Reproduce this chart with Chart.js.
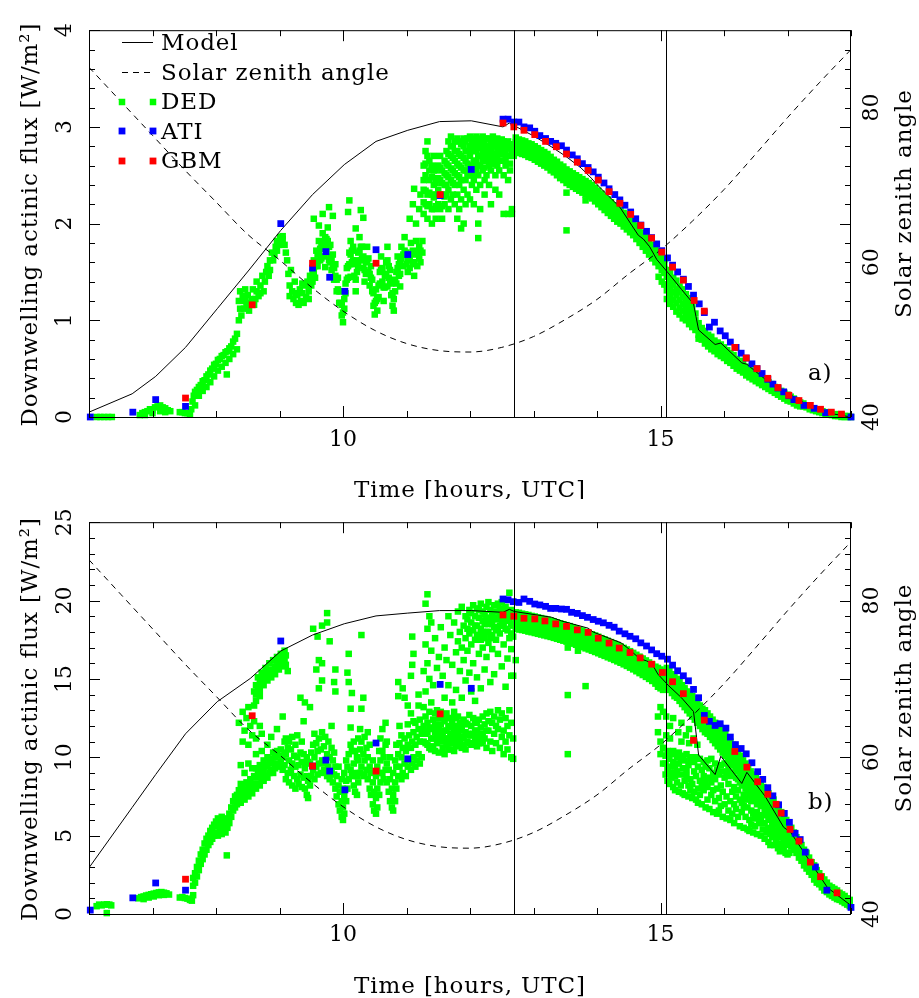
<!DOCTYPE html>
<html><head><meta charset="utf-8">
<script src="https://cdn.jsdelivr.net/npm/chart.js@4.4.1/dist/chart.umd.min.js"></script>
<style>html,body{margin:0;padding:0;background:#fff;}canvas{display:block;}</style>
</head><body>
<canvas id="ca" width="919" height="499"></canvas>
<canvas id="cb" width="919" height="499"></canvas>
<script>
// ---------- axis / marker values ----------
const markerTimes = [12.70, 15.08];
const timeTickLabels = [10, 15];
const fluxTickLabelsA = [0, 1, 2, 3, 4];
const fluxTickLabelsB = [0, 5, 10, 15, 20, 25];
const szaTickLabels = [40, 60, 80];

// ---------- solar zenith angle [hour, deg] ----------
const sza = [[6.0,85.2],[6.5,80.8],[7.0,76.4],[7.5,72.0],[8.0,67.8],[8.5,63.6],[9.0,60.3],[9.5,56.8],[10.0,53.7],[10.5,51.2],[11.0,49.5],[11.5,48.6],[12.0,48.4],[12.5,49.0],[13.0,50.4],[13.5,52.6],[14.0,55.2],[14.5,58.5],[15.0,61.6],[15.5,65.3],[16.0,69.4],[16.5,74.0],[17.0,78.7],[17.5,83.2],[18.0,87.5]];

// ---------- panel a ----------
const modelA = [[6.00,0.05],[6.68,0.24],[7.05,0.42],[7.52,0.72],[8.02,1.12],[8.52,1.52],[9.02,1.93],[9.52,2.30],[10.02,2.61],[10.52,2.85],[11.02,2.965],[11.52,3.055],[12.02,3.063],[12.52,3.00],[12.62,3.04],[12.79,2.98],[13.02,2.90],[13.28,2.795],[13.50,2.70],[13.75,2.575],[13.91,2.47],[13.99,2.41],[14.36,2.17],[14.65,1.88],[14.73,1.84],[14.83,1.76],[14.94,1.63],[15.12,1.49],[15.33,1.32],[15.52,1.17],[15.60,0.90],[15.86,0.75],[15.95,0.765],[16.28,0.56],[16.36,0.545],[16.65,0.39],[17.02,0.24],[17.33,0.12],[17.65,0.04],[18.00,0.00]];
const atiA = [[6.02,0.00],[6.69,0.05],[7.05,0.18],[7.52,0.11],[9.02,2.00],[9.52,1.54],[9.73,1.71],[9.79,1.445],[10.03,1.30],[10.52,1.73],[11.02,1.68],[11.53,2.29],[12.02,2.56],
[12.52,3.08],[12.60,3.08],[12.69,3.05],[12.77,3.05],[12.85,3.00],[12.94,2.99],[13.02,2.955],[13.10,2.91],[13.19,2.88],[13.27,2.85],[13.35,2.83],[13.44,2.805],[13.52,2.76],[13.61,2.71],[13.69,2.67],[13.77,2.62],[13.86,2.58],[13.94,2.535],[14.02,2.48],[14.11,2.42],[14.19,2.36],[14.28,2.30],[14.36,2.245],[14.44,2.19],[14.53,2.12],[14.61,2.05],[14.69,1.985],[14.78,1.92],[14.86,1.855],[14.94,1.79],[15.02,1.72],[15.11,1.645],[15.19,1.57],[15.27,1.50],[15.36,1.425],[15.44,1.35],[15.52,1.26],[15.61,1.17],[15.69,1.08],[15.77,0.93],[15.85,0.98],[15.94,0.89],[16.02,0.84],[16.10,0.775],[16.19,0.72],[16.27,0.66],[16.35,0.61],[16.44,0.55],[16.52,0.50],[16.60,0.45],[16.69,0.39],[16.77,0.34],[16.85,0.30],[16.94,0.26],[17.02,0.22],[17.10,0.18],[17.26,0.12],[17.42,0.09],[17.60,0.045],[18.00,0.00]];
const gbmA = [[7.52,0.196],[8.57,1.16],[9.52,1.59],[10.52,1.59],[11.53,2.30],
[12.52,3.04],[12.69,3.00],[12.85,2.965],[13.02,2.92],[13.19,2.85],[13.36,2.795],[13.52,2.72],[13.69,2.635],[13.86,2.55],[14.02,2.45],[14.19,2.33],[14.36,2.21],[14.53,2.095],[14.69,1.98],[14.86,1.85],[15.02,1.705],[15.19,1.55],[15.36,1.415],[15.53,1.205],[15.69,1.095],[16.17,0.72],[16.35,0.61],[16.52,0.50],[16.69,0.40],[16.85,0.305],[17.02,0.225],[17.18,0.17],[17.36,0.12],[17.52,0.08],[17.69,0.05],[17.85,0.03]];
// DED rows: [hour, reading, reading, ...]
const dedA_morning = [[6.12,0.00],[6.18,0.00],[6.24,0.00],[6.30,0.00],[6.36,0.00],
[6.80,0.02],[6.84,0.04],[6.88,0.05,0.02],[6.92,0.06],[6.96,0.08],[7.00,0.07,0.04],[7.04,0.10],[7.08,0.11],[7.12,0.12,0.06],[7.16,0.10],[7.20,0.09,0.05],[7.24,0.07],[7.28,0.06],
[7.43,0.05],[7.47,0.05],[7.51,0.04],[7.55,0.04],[7.59,0.03],
[7.61,0.08],[7.63,0.16],[7.65,0.22],[7.67,0.26,0.12],[7.70,0.28],[7.73,0.31,0.22],[7.76,0.33],[7.79,0.37,0.27],[7.82,0.38],[7.85,0.42,0.31],[7.88,0.44],[7.91,0.48,0.36],[7.94,0.50],[7.97,0.54,0.42],[8.00,0.55],[8.03,0.59,0.48],[8.06,0.60],[8.09,0.63,0.52],[8.12,0.64],[8.15,0.67,0.56],[8.17,0.44],[8.18,0.68],[8.21,0.71,0.60],[8.24,0.73],[8.27,0.78,0.65],[8.30,0.81],[8.33,0.86,0.70]];
const dedA_cloud = [[8.36,1.20,1.00],[8.38,1.30,1.12],[8.40,1.05],[8.42,1.25],[8.44,1.12],[8.46,1.32,1.20],[8.48,1.15],[8.50,1.26],[8.52,1.10],[8.54,1.18],[8.56,1.22],[8.58,1.32],[8.60,1.16],[8.62,1.22],[8.64,1.30,1.40],[8.67,1.25],[8.70,1.36,1.28],[8.73,1.46],[8.75,1.30],[8.77,1.40],[8.79,1.50],[8.81,1.56],[8.83,1.46],[8.85,1.62,1.52],[8.88,1.70],[8.90,1.62],[8.92,1.68],[8.94,1.76],[8.96,1.82,1.72],[8.99,1.78],[9.01,1.86],[9.03,1.80],[9.05,1.87,1.84],[9.08,1.78],[9.10,1.70],
[9.12,1.62],[9.14,1.48],[9.16,1.36,1.25],[9.18,1.52],[9.20,1.30],[9.22,1.22],[9.24,1.40],[9.26,1.18,1.28],[9.28,1.26],[9.30,1.16],[9.32,1.32],[9.34,1.20],[9.36,1.28,1.38],[9.38,1.18],[9.40,1.36],[9.42,1.24],[9.44,1.40],[9.46,1.30,1.22],[9.48,1.46],[9.50,1.36],
[9.52,1.50,1.40],[9.54,1.62,1.50,2.05],[9.56,1.44,1.56],[9.58,1.72,1.60],[9.60,1.56,1.68],[9.62,1.82,1.70,1.98],[9.64,1.62,1.74],[9.66,1.76,1.64],[9.68,1.90,1.78,2.10],[9.70,1.66,1.80],[9.72,1.86,1.74,1.55],[9.74,1.72,1.84],[9.76,1.96,1.82],[9.78,1.62,1.76,2.17],[9.80,1.78,1.66,1.60],[9.82,1.52,1.64],[9.84,1.68,1.56,2.08],[9.86,1.42,1.54],[9.88,1.58,1.46],[9.90,1.30,1.42],[9.92,1.44,1.32],[9.94,1.18,1.30],[9.96,1.30,1.18],[9.98,1.05,1.16],[10.00,0.98,1.08],[10.02,1.12,1.22],[10.04,1.28,1.38],[10.06,1.42,1.54],
[10.08,1.56,1.44,2.12],[10.10,1.70,1.58,2.24],[10.12,1.82,1.68,1.45],[10.14,1.60,1.72],[10.16,1.76,1.62],[10.18,1.46,1.58],[10.20,1.30,1.42,1.95],[10.22,1.50,1.62],[10.24,1.70,1.56],[10.26,1.86,1.72],[10.28,1.62,1.76,2.14],[10.30,1.76,1.64],[10.32,1.54,1.66,2.06],[10.34,1.40,1.52],[10.36,1.60,1.48],[10.38,1.76,1.62],[10.40,1.50,1.64],[10.42,1.36,1.48],[10.44,1.56,1.44],[10.46,1.30,1.42],[10.48,1.15,1.28],[10.50,1.06,1.18],[10.52,1.20,1.32],[10.54,1.10,1.22],[10.56,1.36,1.24],
[10.58,1.50,1.38],[10.60,1.66,1.52],[10.62,1.40,1.54],[10.64,1.20,1.34],[10.66,1.46,1.34],[10.68,1.60,1.48],[10.70,1.76,1.62,1.35],[10.72,1.56,1.44],[10.74,1.40,1.52],[10.76,1.26,1.38],[10.78,1.15,1.28],[10.80,1.10,1.22],[10.82,1.30,1.42],[10.84,1.50,1.38],[10.86,1.66,1.54],[10.88,1.46,1.58],[10.90,1.60,1.48,1.35],[10.92,1.76,1.64],[10.95,1.56,1.68],[10.97,1.86,1.72],[11.00,1.70,1.58],[11.02,1.50,1.62],[11.05,1.66,1.54,2.05],[11.07,1.80,1.68],[11.10,1.60,1.72,2.20],[11.12,1.46,1.58,2.36],[11.15,1.70,1.82,2.00],[11.17,1.56,1.68],[11.20,1.76,1.64,2.15],[11.22,1.60,1.72,2.30],[11.25,1.82,1.70],
[11.27,2.60,2.45,2.35,2.22,2.10],[11.30,2.75,2.62,2.50,2.34,2.20],[11.33,2.85,2.70,2.30,2.18,2.05],[11.36,2.65,2.55,2.45,2.32,2.20],[11.40,2.60,2.48,2.30,2.15,2.00],[11.43,2.70,2.55,2.40,2.27,2.15],[11.46,2.55,2.42,2.30,2.18,2.05],[11.50,2.60,2.47,2.35,2.20],[11.53,2.70,2.58,2.45,2.30,2.15],[11.56,2.55,2.42,2.30,2.18,2.05],[11.60,2.65,2.52,2.40,2.28,2.20],[11.63,2.75,2.62,2.50,2.40,2.30],[11.66,2.85,2.72,2.60,2.48,2.35,2.15],[11.70,2.90,2.80,2.70,2.57,2.45,2.25],[11.73,2.80,2.68,2.55,2.42,2.30],[11.76,2.85,2.75,2.65,2.52,2.40,2.20],[11.80,2.88,2.75,2.62,2.50,2.30,2.05],[11.83,2.85,2.72,2.60,2.48,2.40,2.15],[11.86,2.82,2.70,2.58,2.45,2.25,1.95],[11.90,2.88,2.80,2.68,2.55,2.35,2.00],[11.93,2.85,2.75,2.65,2.55,2.45,2.20],[11.96,2.88,2.75,2.62,2.50,2.30],[12.00,2.90,2.80,2.70,2.60,2.50,2.25],[12.03,2.85,2.75,2.60,2.50,2.40],[12.06,2.88,2.80,2.65,2.55,2.45,2.20],[12.10,2.90,2.82,2.75,2.65,2.55,2.35],[12.13,2.85,2.78,2.70,2.60,2.50,2.00,1.85],[12.16,2.88,2.80,2.70,2.60,2.40,2.15],[12.20,2.90,2.82,2.75,2.65,2.55],[12.23,2.85,2.78,2.70,2.58,2.45,2.30],[12.26,2.88,2.80,2.72,2.65,2.50],[12.30,2.88,2.80,2.75,2.68,2.60,2.40],[12.33,2.85,2.78,2.70,2.62,2.55,2.20],[12.36,2.90,2.84,2.80,2.72,2.65],[12.40,2.85,2.80,2.70,2.62,2.50,2.35],[12.43,2.88,2.83,2.78,2.70,2.60],[12.46,2.85,2.80,2.75,2.65,2.55,2.30],[12.50,2.87,2.83,2.80,2.72,2.65],[12.53,2.85,2.80,2.75,2.65,2.50,2.10],[12.56,2.83,2.78,2.72,2.66,2.60],[12.60,2.85,2.80,2.78,2.70,2.45,2.10],[12.63,2.82,2.78,2.70,2.62,2.55],[12.66,2.80,2.77,2.75,2.15,2.10],[12.69,2.82,2.76,2.70]];
const dedA_band = [[12.72,2.89,2.84,2.80,2.75],[12.77,2.87,2.83,2.78,2.73],[12.82,2.86,2.81,2.77,2.72],[12.87,2.85,2.80,2.76,2.71],[12.92,2.83,2.78,2.74,2.69],[12.97,2.82,2.77,2.72,2.68],[13.02,2.80,2.75,2.70,2.66],[13.07,2.78,2.73,2.69,2.64],[13.12,2.76,2.71,2.67,2.62],[13.17,2.74,2.69,2.64,2.60],[13.22,2.72,2.67,2.62,2.58],[13.27,2.69,2.64,2.60,2.55],[13.32,2.66,2.62,2.57,2.53],[13.37,2.64,2.59,2.55,2.50],[13.42,2.61,2.56,2.52,2.47],[13.47,2.59,2.54,2.49,2.45],[13.52,2.56,2.51,2.47,2.42,2.32,1.93],[13.57,2.54,2.49,2.45,2.40],[13.62,2.52,2.47,2.42,2.38],[13.67,2.50,2.45,2.41,2.36],[13.72,2.48,2.43,2.39,2.34],[13.77,2.46,2.41,2.36,2.32],[13.82,2.44,2.39,2.34,2.30,2.24],[13.87,2.42,2.37,2.32,2.28],[13.92,2.40,2.35,2.30,2.26],[13.97,2.37,2.32,2.28,2.23],[14.02,2.34,2.29,2.25,2.20],[14.07,2.31,2.26,2.22,2.17],[14.12,2.28,2.23,2.19,2.14],[14.17,2.25,2.20,2.16,2.11],[14.22,2.22,2.17,2.13,2.08],[14.27,2.19,2.14,2.10,2.05],[14.32,2.16,2.11,2.07,2.02],[14.37,2.14,2.09,2.04,2.00],[14.42,2.11,2.06,2.02,1.97],[14.47,2.08,2.03,1.99,1.94],[14.52,2.05,2.00,1.96,1.91],[14.57,2.02,1.97,1.92,1.88],[14.62,1.98,1.93,1.89,1.84],[14.67,1.94,1.89,1.85,1.80],[14.72,1.90,1.85,1.81,1.76],[14.77,1.86,1.81,1.77,1.72],[14.82,1.82,1.77,1.73,1.68],[14.87,1.78,1.73,1.68,1.64],[14.92,1.74,1.69,1.64,1.60],[14.97,1.70,1.65,1.60,1.56,1.45],[15.02,1.66,1.61,1.56,1.52,1.40],[15.06,1.63,1.58,1.53,1.49,1.37]];
const dedA_evening = [[15.10,1.52,1.45,1.37,1.31,1.22],[15.15,1.49,1.40,1.33,1.25,1.17],[15.20,1.44,1.37,1.29,1.21,1.14],[15.25,1.41,1.32,1.26,1.18,1.09],[15.30,1.35,1.29,1.21,1.13,1.06],[15.35,1.32,1.24,1.17,1.10,1.02],[15.40,1.27,1.21,1.13,1.05,1.00],[15.45,1.23,1.15,1.09,1.02,0.96],[15.50,1.17,1.11,1.04,0.98,0.93],[15.55,1.07,1.00,0.95,0.90],[15.60,0.97,0.90,0.85,0.81],[15.65,0.92,0.86,0.80],[15.70,0.89,0.82,0.76],[15.75,0.85,0.79,0.73],[15.80,0.83,0.76,0.70],[15.85,0.79,0.74,0.68],[15.90,0.77,0.71,0.65],[15.95,0.75,0.69,0.63],[16.00,0.72,0.66,0.61],[16.05,0.69,0.64,0.58],[16.10,0.66,0.60,0.56],[16.15,0.64,0.57,0.53],[16.20,0.60,0.55,0.50],[16.25,0.58,0.52,0.48],[16.30,0.55,0.50,0.46],[16.35,0.52,0.47,0.43],[16.40,0.50,0.45,0.41],[16.45,0.48,0.43,0.39],[16.50,0.45,0.41,0.37],[16.55,0.43,0.38,0.35],[16.60,0.40,0.36,0.33],[16.65,0.38,0.34,0.31],[16.70,0.36,0.32,0.29],[16.75,0.34,0.30,0.27],[16.80,0.31,0.28,0.25],[16.85,0.29,0.26,0.23],[16.90,0.27,0.24,0.21],[16.95,0.25,0.22,0.19],[17.00,0.23,0.20,0.17],[17.05,0.21,0.18,0.16],[17.10,0.19,0.16,0.14],[17.15,0.17,0.15,0.12],[17.20,0.15,0.13,0.11],[17.25,0.14,0.11],[17.30,0.12,0.10],[17.35,0.11,0.08],[17.40,0.09,0.07],[17.45,0.08,0.06],[17.50,0.07,0.05],[17.55,0.06,0.04],[17.60,0.05,0.03],[17.65,0.04,0.03],[17.70,0.03,0.02],[17.75,0.03,0.01],[17.80,0.02,0.01],[17.85,0.02,0.00],[17.90,0.01,0.00],[17.95,0.01,0.00],[18.00,0.00]];

// ---------- panel b ----------
const modelB = [[6.00,2.95],[6.68,6.8],[7.05,8.9],[7.52,11.5],[8.02,13.55],[8.54,15.03],[9.02,16.78],[9.52,17.8],[10.02,18.52],[10.52,19.02],[11.02,19.2],[11.52,19.36],[12.02,19.36],[12.52,19.25],[12.62,19.44],[12.70,19.30],[13.28,18.94],[13.44,18.70],[13.86,18.24],[13.94,17.99],[14.38,17.30],[14.49,16.95],[14.67,16.30],[14.78,16.15],[14.86,16.00],[14.96,15.30],[15.12,14.60],[15.33,13.80],[15.52,12.92],[15.60,10.15],[15.86,8.90],[15.95,10.07],[16.28,8.33],[16.36,9.04],[16.65,7.50],[16.94,5.53],[17.05,5.21],[17.33,3.50],[17.63,1.68],[18.00,0.54]];
const atiB = [[6.02,0.25],[6.69,1.03],[7.05,1.98],[7.52,1.52],[9.02,17.42],[9.52,9.44],[9.73,9.82],[9.79,9.12],[10.03,7.92],[10.52,10.91],[11.02,9.90],[11.53,14.65],[12.02,14.40],
[12.52,20.10],[12.60,20.05],[12.68,19.93],[12.77,19.88],[12.85,20.10],[12.94,19.95],[13.02,19.78],[13.10,19.72],[13.19,19.63],[13.27,19.50],[13.35,19.50],[13.44,19.46],[13.52,19.44],[13.60,19.25],[13.69,19.18],[13.77,19.04],[13.85,18.93],[13.94,18.79],[14.02,18.68],[14.10,18.58],[14.19,18.42],[14.27,18.30],[14.35,18.05],[14.44,17.88],[14.52,17.72],[14.61,17.56],[14.69,17.30],[14.78,17.10],[14.86,16.85],[14.94,16.61],[15.02,16.45],[15.11,16.26],[15.19,15.88],[15.27,15.52],[15.36,15.20],[15.44,14.88],[15.52,14.33],[15.60,13.80],[15.69,12.67],[15.77,12.29],[15.86,12.03],[15.94,12.14],[16.03,11.86],[16.10,11.29],[16.18,10.81],[16.27,10.56],[16.35,10.22],[16.44,9.65],[16.53,9.08],[16.61,8.59],[16.69,8.06],[16.77,7.54],[16.86,6.97],[16.95,6.42],[17.03,5.85],[17.12,5.15],[17.20,4.75],[17.28,3.95],[17.44,3.00],[17.62,1.52],[18.00,0.42]];
const gbmB = [[7.52,2.22],[8.57,12.65],[9.52,9.44],[10.52,9.12],[11.53,12.77],
[12.52,19.08],[12.69,19.00],[12.85,18.87],[13.02,18.83],[13.18,18.70],[13.35,18.51],[13.52,18.35],[13.69,18.13],[13.86,17.97],[14.02,17.60],[14.19,17.29],[14.35,16.97],[14.52,16.68],[14.68,16.34],[14.86,15.94],[15.03,15.41],[15.19,14.82],[15.36,14.06],[15.52,11.08],[15.69,12.37],[16.17,10.37],[16.36,9.37],[16.53,8.44],[16.69,7.64],[16.82,7.00],[16.90,6.44],[17.04,5.40],[17.18,4.65],[17.36,3.31],[17.52,2.38],[17.78,1.35]];
const dedB_morning = [[6.12,0.50],[6.16,0.60],[6.20,0.55],[6.24,0.60],[6.28,0.62,0.06],[6.32,0.60],[6.35,0.55],
[6.78,1.00],[6.82,1.08],[6.86,1.12,0.95],[6.90,1.18],[6.94,1.22,1.05],[6.98,1.26],[7.02,1.30,1.12],[7.06,1.34],[7.10,1.38,1.20],[7.14,1.40],[7.18,1.36,1.22],[7.22,1.32],[7.26,1.24],
[7.43,1.05],[7.47,1.08],[7.51,1.02],[7.55,0.98],[7.59,0.90],[7.62,0.85],
[7.64,1.2,1.8,2.3],[7.67,2.0,2.6],[7.70,2.4,3.0],[7.73,2.8,3.4],[7.76,3.2,3.8],[7.79,3.5,4.1],[7.82,3.8,4.5],[7.85,4.1,4.8],[7.88,4.4,5.0],[7.91,4.6,5.3],[7.94,4.8,5.5],[7.97,5.0,5.7],[8.00,5.2,5.9],[8.03,5.0,5.6,6.1],[8.06,5.3,5.9],[8.09,5.1,5.7,6.2],[8.12,5.4,6.0],[8.15,5.2,5.8],[8.17,3.74],[8.18,5.5,6.1],[8.21,5.8,6.4],[8.24,6.2,6.8],[8.27,6.6,7.2],[8.30,6.8,7.5]];
const dedB_cloud = [[8.33,7.0,7.6],[8.36,7.3,7.9,12.2],[8.39,7.1,7.7,8.3,9.5],[8.42,7.5,8.1,12.9,11.0],[8.45,7.3,7.9,11.7,9.0],[8.48,7.7,8.4,12.5],[8.51,7.5,8.1,13.2,10.8,9.6],[8.54,7.9,8.6,12.0],[8.57,7.7,8.3,11.4,9.3],[8.60,8.1,8.8,12.3,13.3,14.2],[8.63,8.0,8.7,9.3,11.2,13.6,14.6,14.0,10.2],[8.66,8.3,9.0,14.5,15.1],[8.69,8.2,8.9,9.5,13.9,12.0,14.8,14.3],[8.72,8.6,9.3,11.5,14.8,15.4,10.4],[8.75,8.5,9.2,9.8,15.1,14.6],[8.78,8.8,9.5,15.0,15.7],[8.81,8.7,9.4,10.0,10.8,15.3,14.9],[8.84,9.0,9.7,15.3,16.0],[8.87,9.2,9.9,11.3,15.6,15.1],[8.90,9.0,9.6,10.3,15.5,16.2],[8.93,9.3,10.0,15.8,15.3],[8.96,9.6,10.4,11.8,15.8,16.4],[8.99,9.4,10.1,16.1,15.6],[9.02,9.7,10.5,16.0,16.6],[9.05,9.2,10.0,12.6,16.3,15.8],[9.08,9.5,10.3,11.0,16.2,16.8],
[9.10,8.6,10.2,11.2,15.9,16.5],[9.13,9.0,10.6,15.5],[9.15,8.4,9.8,11.0],[9.18,9.2,10.5],[9.20,8.2,9.6,11.3],[9.23,8.8,10.1],[9.25,8.0,9.4,10.8],[9.28,8.6,10.0,11.4],[9.30,8.3,9.5],[9.33,8.9,10.3,13.8],[9.35,8.1,9.7,11.0],[9.38,8.7,10.2,12.3],[9.40,8.0,9.3,13.5],[9.43,7.6,8.8,10.0],[9.45,7.4,8.5,9.7],[9.48,8.2,9.6,13.2],[9.50,8.8,10.3],[9.53,9.2,10.8,18.2],[9.55,8.6,10.0,11.5],[9.58,9.4,10.9,15.6],[9.60,8.9,10.4,17.7],[9.62,9.6,11.2,14.4,16.2],[9.65,9.0,10.5],[9.67,9.8,11.6,18.4,14.9,16.0],[9.70,9.2,10.7],[9.72,9.6,11.3],[9.75,8.8,10.2,18.6,19.2],[9.77,9.4,11.0],[9.79,8.6,10.0,17.4],[9.82,9.0,10.6,12.0],[9.84,8.4,9.8],[9.86,8.9,10.3,14.8],[9.88,8.0,9.4,15.6,14.2],[9.90,7.5,8.8],[9.93,7.0,8.2,9.4],[9.95,6.6,7.8],[9.98,6.2,7.2,8.6],[10.00,6.0,6.8,8.0],[10.02,6.4,7.6,9.0],[10.05,7.2,8.5,9.8],[10.07,8.0,9.4,15.4],[10.09,8.6,10.2,14.8,16.6],[10.12,9.2,10.8,11.9,13.1],[10.14,8.8,10.4,14.1],[10.17,8.2,9.6,11.0],[10.19,7.8,9.0,10.4],[10.22,7.6,8.8,10.0],[10.24,8.4,9.8,11.2],[10.27,9.0,10.5,11.8],[10.29,9.4,11.0,13.1,17.8],[10.32,8.8,10.2,13.8],[10.34,8.9,9.8,11.3],[10.37,9.2,10.6],[10.39,8.6,10.0,11.6],[10.42,8.0,9.4,10.8],[10.44,7.6,9.0],[10.47,7.0,8.4,9.8],[10.49,6.6,7.8],[10.52,6.4,7.4,8.8],[10.54,6.8,8.0,9.4],[10.57,7.6,9.0,10.4],[10.59,8.4,9.8,11.2],[10.62,9.0,10.4,11.8],[10.64,8.6,10.0],[10.67,9.2,10.8,12.2],[10.69,8.4,9.6,11.0],[10.72,7.8,9.2],[10.74,7.2,8.6,10.0],[10.77,6.8,8.0],[10.79,6.6,7.6,9.0],[10.82,7.2,8.4,9.8],[10.84,8.0,9.4,10.8],[10.87,8.8,10.2,13.9,14.8],[10.89,9.4,10.9,12.0],[10.92,8.6,10.0,11.4],[10.94,9.0,10.6,14.4],[10.97,9.6,11.2,13.8],[10.99,8.8,10.4],[11.02,9.4,10.8,12.1,13.3],[11.04,9.8,11.4],[11.07,9.2,10.6,12.8,15.2],[11.09,9.6,11.0,15.9,17.7],[11.11,10.0,11.6,16.6,12.3],[11.14,9.4,10.8,12.2],[11.16,9.8,11.3],[11.19,10.2,11.8,13.3,14.0],[11.21,9.6,11.0,12.4],[11.24,10.0,11.5],
[11.27,12.0,11.0,11.6,13.2,15.5],[11.30,11.5,12.6,10.9,19.8,17.2,14.2],[11.33,12.2,10.8,11.6,20.4,18.2,16.0],[11.36,11.8,12.9,10.6,19.0,15.0],[11.39,10.5,11.9,11.2,13.5,18.6,16.8],[11.42,12.4,11.2,10.7,14.6],[11.45,11.6,12.8,10.4,12.1,17.6],[11.48,12.0,10.9,11.5,13.0,15.7],[11.51,11.3,12.5,10.3,11.8,16.4],[11.54,12.1,11.0,11.5,12.9,18.3],[11.57,11.5,10.6,12.6,11.1,15.2],[11.60,12.3,11.2,10.2,11.7,17.0,13.8],[11.63,11.7,12.8,10.8,11.2,16.2],[11.66,12.0,11.1,10.5,12.5,19.0,14.6],[11.69,11.4,12.5,10.5,11.9,17.8],[11.72,12.2,10.9,11.5,15.9,13.5],[11.75,11.6,12.9,10.4,11.1,18.6],[11.78,12.0,11.2,10.7,12.5,14.3,16.7],[11.81,11.5,12.6,10.8,19.3,17.4],[11.84,12.2,11.0,11.7,15.5,18.0],[11.87,11.8,10.6,11.2,13.8,17.0,19.6],[11.90,12.4,11.3,10.8,16.2,18.4],[11.93,11.6,10.5,12.2,14.9,17.6,19.0],[11.96,12.1,11.0,11.5,16.8,18.8,18.2],[11.99,11.4,12.7,10.9,15.4,17.9,19.4],[12.02,12.0,10.8,11.4,14.2,17.2,18.6,19.2],[12.05,11.5,12.5,10.9,16.0,18.1,19.7],[12.08,12.2,11.1,11.7,13.6,17.5,19.0,18.4],[12.11,11.7,10.7,12.2,15.1,18.4,19.5,17.8],[12.14,12.4,11.3,10.9,16.6,17.8,18.9,19.4],[12.17,11.9,10.9,11.4,14.4,18.2,19.8,17.5],[12.20,12.6,11.5,11.0,17.0,18.7,19.3,18.0],[12.23,11.2,12.1,15.6,17.6,19.1,18.5],[12.26,12.8,10.6,11.7,18.0,19.6,16.4,18.9],[12.29,11.7,12.3,17.3,18.5,19.9,18.0],[12.32,11.0,12.9,14.8,18.9,19.4,17.6],[12.35,12.2,10.4,17.8,19.2,16.9,18.5],[12.38,11.5,12.6,18.3,19.7,15.3,18.9],[12.41,10.9,12.0,17.5,18.8,19.3,18.1],[12.44,11.8,13.0,16.6,18.2,19.8,18.9],[12.47,10.6,12.4,17.9,19.0,19.5,18.4],[12.50,11.3,12.8,15.8,18.6,19.9,19.2],[12.53,10.2,11.7,17.2,18.4,19.3,18.8],[12.56,11.0,12.5,18.8,19.6,14.5,18.2],[12.59,10.5,12.0,16.3,18.1,19.2,18.7],[12.62,11.4,13.0,17.6,18.9,20.5,19.3],[12.65,10.0,12.2,16.9,18.5,19.4,15.2,17.9],[12.68,11.2,9.9,15.2,17.7,19.0,18.4]];
const dedB_band = [[12.72,19.25,18.90,18.55,18.20,16.2],[12.77,19.22,18.85,18.50,18.15],[12.82,19.16,18.82,18.47,18.12],[12.87,19.12,18.77,18.42,18.08],[12.92,19.08,18.72,18.38,18.02],[12.97,19.02,18.67,18.32,17.98],[13.02,18.98,18.63,18.28,17.93],[13.07,18.93,18.58,18.24,17.88],[13.12,18.88,18.53,18.18,17.83],[13.17,18.83,18.48,18.13,17.78],[13.22,18.78,18.43,18.08,17.73],[13.27,18.73,18.38,18.03,17.68],[13.32,18.67,18.32,17.97,17.62],[13.37,18.61,18.26,17.91,17.56],[13.42,18.55,18.20,17.85,17.50],[13.47,18.49,18.14,17.79,17.44],[13.52,18.43,18.08,17.73,17.38],[13.54,17.0,13.97,10.2],[13.57,18.37,18.02,17.67,17.32],[13.62,18.30,17.95,17.60,17.25],[13.67,18.23,17.88,17.53,17.18],[13.70,16.8],[13.72,18.15,17.80,17.45,17.10],[13.77,18.08,17.73,17.38,17.03],[13.82,18.00,17.65,17.30,16.95,14.54],[13.87,17.93,17.58,17.23,16.88],[13.92,17.85,17.50,17.15,16.80],[13.97,17.77,17.42,17.07,16.72],[14.02,17.69,17.34,16.99,16.64],[14.07,17.60,17.25,16.90,16.55],[14.12,17.52,17.17,16.82,16.47],[14.17,17.43,17.08,16.73,16.38],[14.22,17.35,17.00,16.65,16.30],[14.27,17.26,16.91,16.56,16.21],[14.32,17.17,16.82,16.47,16.12],[14.37,17.08,16.73,16.38,16.03],[14.42,16.98,16.63,16.28,15.93],[14.47,16.88,16.53,16.18,15.83],[14.52,16.77,16.42,16.07,15.72],[14.57,16.66,16.31,15.96,15.61],[14.62,16.54,16.19,15.84,15.49],[14.67,16.42,16.07,15.72,15.37],[14.72,16.30,15.95,15.60,15.25],[14.77,16.18,15.83,15.48,15.13],[14.82,16.05,15.70,15.35,15.00],[14.87,15.92,15.57,15.22,14.87],[14.92,15.78,15.42,15.06,14.70],[14.96,15.70,15.30,14.90,14.50,12.6,11.6],[15.00,15.60,15.20,14.80,14.40,13.2,11.0,10.2],[15.04,15.50,15.10,14.70,14.30,12.9,10.6,9.6]];
const dedB_upper = [[15.10,15.7,15.3,14.9,14.5],[15.14,15.5,15.1,14.7,14.3],[15.18,15.3,14.9,14.6,14.1],[15.22,15.1,14.8,14.4,13.9],[15.26,15.0,14.6,14.2,13.8],[15.30,14.8,14.4,14.0,13.6],[15.34,14.6,14.2,13.9,13.4],[15.38,14.4,14.0,13.7,13.2],[15.42,14.2,13.9,13.5,13.0],[15.46,14.0,13.7,13.3,12.8],[15.50,13.9,13.5,13.1,12.6],[15.54,13.7,13.3,12.9,12.4],[15.58,13.5,13.1,12.7,12.2],[15.62,13.3,12.9,12.5,12.0],[15.66,13.1,12.7,12.3,11.8],[15.70,13.0,12.5,12.1,11.6],[15.74,12.8,12.4,11.9,11.5],[15.78,12.6,12.2,11.8,11.3],[15.82,12.4,12.0,11.6,11.1],[15.86,12.2,11.8,11.4,10.9],[15.90,12.0,11.6,11.2,10.7],[15.94,11.9,11.4,11.0,10.5],[15.98,11.7,11.2,10.8,10.3],[16.02,11.5,11.0,10.6,10.1],[16.06,11.2,10.8,10.4,9.9],[16.10,11.0,10.6,10.2,9.7],[16.14,10.8,10.4,10.0,9.5],[16.18,10.5,10.1,9.7,9.3],[16.22,10.3,9.9,9.5,9.1],[16.26,10.1,9.7,9.3,8.8],[16.30,9.8,9.4,9.0,8.6],[16.34,9.6,9.2,8.8,8.4],[16.38,9.4,9.0,8.6,8.1],[16.42,9.1,8.7,8.3,7.9],[16.46,8.9,8.5,8.1,7.7],[16.50,8.7,8.3,7.9,7.5],[16.54,8.5,8.1,7.7,7.3],[16.58,8.3,7.9,7.5,7.1],[16.62,8.1,7.7,7.3,6.9],[16.66,7.9,7.5,7.0,6.6],[16.70,7.7,7.2,6.8,6.4],[16.74,7.5,7.0,6.6,6.2],[16.78,7.3,6.8,6.4,6.0],[16.82,7.0,6.6,6.1,5.7],[16.86,6.8,6.3,5.9,5.5],[16.90,6.5,6.1,5.7,5.3],[16.94,6.3,5.9,5.4,5.0],[16.98,6.0,5.6,5.2,4.8],[17.02,5.8,5.4,4.9,4.6],[17.06,5.5,5.1,4.7,4.3],[17.10,5.2,4.8,4.5,4.1],[17.14,4.9,4.6,4.2,3.9],[17.18,4.7,4.3,4.0,3.6],[17.22,4.4,4.0,3.7,3.4],[17.26,4.1,3.8,3.4,3.1],[17.30,3.9,3.5,3.2,2.9],[17.34,3.6,3.3,3.0,2.7],[17.38,3.3,3.0,2.7,2.5],[17.42,3.1,2.8,2.5,2.2],[17.46,2.8,2.6,2.3,2.0],[17.50,2.6,2.3,2.1,1.9],[17.54,2.4,2.1,1.9,1.7],[17.58,2.2,1.9,1.7,1.5],[17.62,2.0,1.8,1.6,1.4],[17.66,1.8,1.6,1.4,1.25],[17.70,1.7,1.5,1.3,1.15],[17.74,1.6,1.4,1.2,1.05],[17.78,1.5,1.3,1.1,0.95],[17.82,1.35,1.2,1.0,0.9],[17.86,1.25,1.1,0.95,0.8],[17.90,1.15,1.0,0.85,0.7],[17.94,1.0,0.9,0.75,0.6],[17.98,0.9,0.8,0.65,0.5]];
const dedB_lower = [[15.08,10.1,8.9,9.6],[15.09,12.6,11.4],[15.11,9.2,8.5,10.4],[15.14,9.9,8.3,9.4],[15.15,12.0,11.2],[15.17,8.7,10.2,9.0],[15.20,9.7,8.1,10.4,12.5],[15.23,8.8,9.4,7.9],[15.26,10.0,8.4,9.1],[15.28,11.6],[15.29,7.8,9.6,10.3],[15.32,8.9,9.9,8.2],[15.33,12.2,11.0],[15.35,9.3,7.7,10.1],[15.38,8.5,9.8,7.6],[15.40,11.4],[15.41,10.2,8.8,9.2],[15.44,7.5,9.5,8.2],[15.45,10.9,11.8],[15.47,9.9,8.6,7.9],[15.50,8.3,10.0,7.4],[15.52,11.2],[15.53,9.1,7.8,9.7],[15.56,7.3,8.8,10.0],[15.58,10.8],[15.59,9.4,8.0,7.1],[15.62,8.5,9.9,7.6],[15.65,7.0,9.2,8.3],[15.68,9.7,7.9,8.8],[15.71,6.8,8.5,9.4],[15.74,9.8,7.3,8.1],[15.77,8.7,6.7,9.3],[15.80,7.6,9.9,8.4],[15.83,6.5,9.0,7.9],[15.86,8.6,7.2,9.6],[15.89,9.2,6.4,8.0],[15.92,7.4,8.9,6.6],[15.95,9.5,8.2,6.9],[15.98,6.2,7.8,9.1],[16.01,8.7,9.6,7.0],[16.04,6.1,7.5,9.0],[16.07,8.3,6.6,9.3],[16.10,7.2,8.8,6.0],[16.13,9.0,6.4,7.8],[16.16,5.8,8.1,7.0],[16.19,8.7,6.7,7.5],[16.22,6.2,7.9,8.6],[16.25,7.3,5.6,8.4],[16.28,8.2,6.5,7.1],[16.31,5.5,7.6,6.9],[16.34,8.0,6.2,7.3],[16.37,6.8,5.4,7.9],[16.40,7.6,6.0,5.3],[16.43,5.7,7.2,6.6],[16.46,7.8,6.4,5.2],[16.49,6.1,7.4,5.6],[16.52,7.0,5.1,6.5],[16.55,5.8,7.4,6.2],[16.58,6.9,5.0,6.0],[16.61,5.4,7.1,6.3],[16.64,6.7,4.8,5.8],[16.67,5.2,6.4,7.0],[16.70,6.0,4.6,5.5],[16.73,6.6,5.1,4.4],[16.76,4.9,6.1,5.6],[16.79,6.3,4.4,5.3],[16.82,4.7,5.8,5.1],[16.85,5.9,4.2,5.0],[16.88,4.5,5.5,4.0],[16.91,5.7,4.3,4.9],[16.94,4.1,5.2,4.6],[16.97,5.4,3.9,4.7],[17.00,4.4,5.0,3.8],[17.03,4.8,3.9]];

// ---------- helpers ----------
const FONT = '"DejaVu Serif", "Liberation Serif", serif';
const rowsToPoints = rows => rows.flatMap(r => r.slice(1).map(v => ({x: r[0], y: v})));
const pairsToPoints = p => p.map(([x, y]) => ({x, y}));

function drawText(ctx, s, x, y, rot, align, size) {
  ctx.save();
  ctx.translate(x, y);
  if (rot) ctx.rotate(rot);
  ctx.font = (size || 23) + 'px ' + FONT;
  try { ctx.letterSpacing = '0.9px'; } catch (e) {}
  ctx.textAlign = align || 'left';
  ctx.textBaseline = 'alphabetic';
  ctx.fillStyle = '#000';
  ctx.fillText(s, 0, 0);
  ctx.restore();
}

function panelPlugin(p) {
  return {
    id: 'panelDecor',
    afterDatasetsDraw(chart) {
      const {ctx, chartArea: a} = chart;
      const xs = chart.scales.x, ys = chart.scales.y;
      ctx.save();
      ctx.strokeStyle = '#000';
      ctx.lineWidth = 1;
      ctx.beginPath();
      markerTimes.forEach(t => {
        const px = Math.round(xs.getPixelForValue(t)) + 0.5;
        ctx.moveTo(px, a.top); ctx.lineTo(px, a.bottom);
      });
      ctx.stroke();
      ctx.beginPath();
      ctx.rect(a.left + 0.5, a.top + 0.5, a.right - a.left - 1, a.bottom - a.top);
      for (let h = 6; h <= 18; h++) {
        const px = Math.round(xs.getPixelForValue(h)) + 0.5;
        const len = (h % 5 === 0) ? 11 : 6;
        ctx.moveTo(px, a.bottom); ctx.lineTo(px, a.bottom - len);
        ctx.moveTo(px, a.top); ctx.lineTo(px, a.top + len);
      }
      const n = Math.round(p.yMax / p.yMinor);
      const per = Math.round(p.yMajor / p.yMinor);
      for (let k = 0; k <= n; k++) {
        const py = Math.round(ys.getPixelForValue(k * p.yMinor)) + 0.5;
        const len = (k % per === 0) ? 11 : 6;
        ctx.moveTo(a.left, py); ctx.lineTo(a.left + len, py);
        ctx.moveTo(a.right, py); ctx.lineTo(a.right - len, py);
      }
      ctx.stroke();
      ctx.restore();
    },
    afterDraw(chart) {
      const {ctx, chartArea: a} = chart;
      const cy = (a.top + a.bottom) / 2;
      drawText(ctx, 'Downwelling actinic flux [W/m\u00B2]', 37, cy + 1, -Math.PI / 2, 'center');
      drawText(ctx, 'Solar zenith angle', 911, cy - 20, -Math.PI / 2, 'center');
      drawText(ctx, 'Time [hours, UTC]', (a.left + a.right) / 2, p.xTitleY, 0, 'center');
      drawText(ctx, p.tag, 808, p.tagY, 0, 'left');
      if (p.legend) {
        ctx.save();
        ctx.strokeStyle = '#000'; ctx.lineWidth = 1;
        ctx.beginPath(); ctx.moveTo(122, 42.5); ctx.lineTo(153, 42.5); ctx.stroke();
        ctx.setLineDash([6, 5]);
        ctx.beginPath(); ctx.moveTo(122, 72.5); ctx.lineTo(155, 72.5); ctx.stroke();
        ctx.setLineDash([]);
        const sq = (cx, cy2, col, s) => { ctx.fillStyle = col; ctx.fillRect(cx - s / 2, cy2 - s / 2, s, s); };
        [['#00ff00', 102, 6.5], ['#0000ff', 131, 6.8], ['#ff0000', 161, 6.8]].forEach(([c, yy, s]) => { sq(122, yy, c, s); sq(153, yy, c, s); });
        ctx.restore();
        drawText(ctx, 'Model', 161, 50);
        drawText(ctx, 'Solar zenith angle', 161, 80);
        drawText(ctx, 'DED', 161, 109);
        drawText(ctx, 'ATI', 161, 138.5);
        drawText(ctx, 'GBM', 161, 168);
      }
    }
  };
}

function makeChart(id, p) {
  const tickFont = {family: FONT, size: 22};
  const datasets = [
    {label: 'GBM', data: pairsToPoints(p.gbm), yAxisID: 'y', backgroundColor: '#ff0000', borderColor: '#ff0000', pointStyle: 'rect', pointRadius: 4.8, borderWidth: 0, order: 0, clip: false},
    {label: 'ATI', data: pairsToPoints(p.ati), yAxisID: 'y', backgroundColor: '#0000ff', borderColor: '#0000ff', pointStyle: 'rect', pointRadius: 4.8, borderWidth: 0, order: 1, clip: false},
    {label: 'Model', data: pairsToPoints(p.model), yAxisID: 'y', showLine: true, fill: false, borderColor: '#000', borderWidth: 1, pointRadius: 0, tension: 0, order: 2},
    {label: 'Solar zenith angle', data: pairsToPoints(sza), yAxisID: 'y2', showLine: true, fill: false, borderColor: '#000', borderWidth: 1, borderDash: [6, 5], pointRadius: 0, cubicInterpolationMode: 'monotone', order: 3},
    {label: 'DED', data: p.ded.flatMap(rowsToPoints), yAxisID: 'y', backgroundColor: '#00ff00', borderColor: '#00ff00', pointStyle: 'rect', pointRadius: 4.6, borderWidth: 0, order: 4, clip: false}
  ];
  return new Chart(document.getElementById(id), {
    type: 'scatter',
    data: {datasets},
    options: {
      responsive: false, animation: false, devicePixelRatio: 1, events: [],
      layout: {padding: {top: p.top, left: 0, right: 0, bottom: 0}},
      plugins: {legend: {display: false}, tooltip: {enabled: false}},
      scales: {
        x: {type: 'linear', position: 'bottom', min: 6, max: 18,
            grid: {display: false, drawTicks: false}, border: {display: false},
            ticks: {font: tickFont, color: '#000', padding: p.xPad, minRotation: 0, maxRotation: 0, autoSkip: false},
            afterBuildTicks: s => { s.ticks = timeTickLabels.map(v => ({value: v})); },
            afterFit: s => { s.height = p.xHeight; }},
        y: {type: 'linear', position: 'left', min: 0, max: p.yMax,
            grid: {display: false, drawTicks: false}, border: {display: false},
            ticks: {font: tickFont, color: '#000', padding: p.yPad, minRotation: 90, maxRotation: 90, crossAlign: 'center', autoSkip: false},
            afterBuildTicks: s => { s.ticks = p.yTicks.map(v => ({value: v})); },
            afterFit: s => { s.width = 89; }},
        y2: {type: 'linear', position: 'right', min: 40, max: 90,
            grid: {display: false, drawTicks: false}, border: {display: false},
            ticks: {font: tickFont, color: '#000', padding: 7, minRotation: 90, maxRotation: 90, crossAlign: 'center', autoSkip: false},
            afterBuildTicks: s => { s.ticks = szaTickLabels.map(v => ({value: v})); },
            afterFit: s => { s.width = 68; }}
      }
    },
    plugins: [panelPlugin(p)]
  });
}

makeChart('ca', {tag: 'a)', tagY: 380, legend: true, top: 23, xHeight: 82, xPad: 10, yPad: 17, xTitleY: 496.5,
  yMax: 4, yMajor: 1, yMinor: 0.2, yTicks: fluxTickLabelsA,
  model: modelA, ati: atiA, gbm: gbmA, ded: [dedA_morning, dedA_cloud, dedA_band, dedA_evening]});
makeChart('cb', {tag: 'b)', tagY: 310, legend: false, top: 20, xHeight: 84, xPad: 8, yPad: 10, xTitleY: 494.3,
  yMax: 25, yMajor: 5, yMinor: 1, yTicks: fluxTickLabelsB,
  model: modelB, ati: atiB, gbm: gbmB, ded: [dedB_morning, dedB_cloud, dedB_band, dedB_upper, dedB_lower]});
</script>
</body></html>
